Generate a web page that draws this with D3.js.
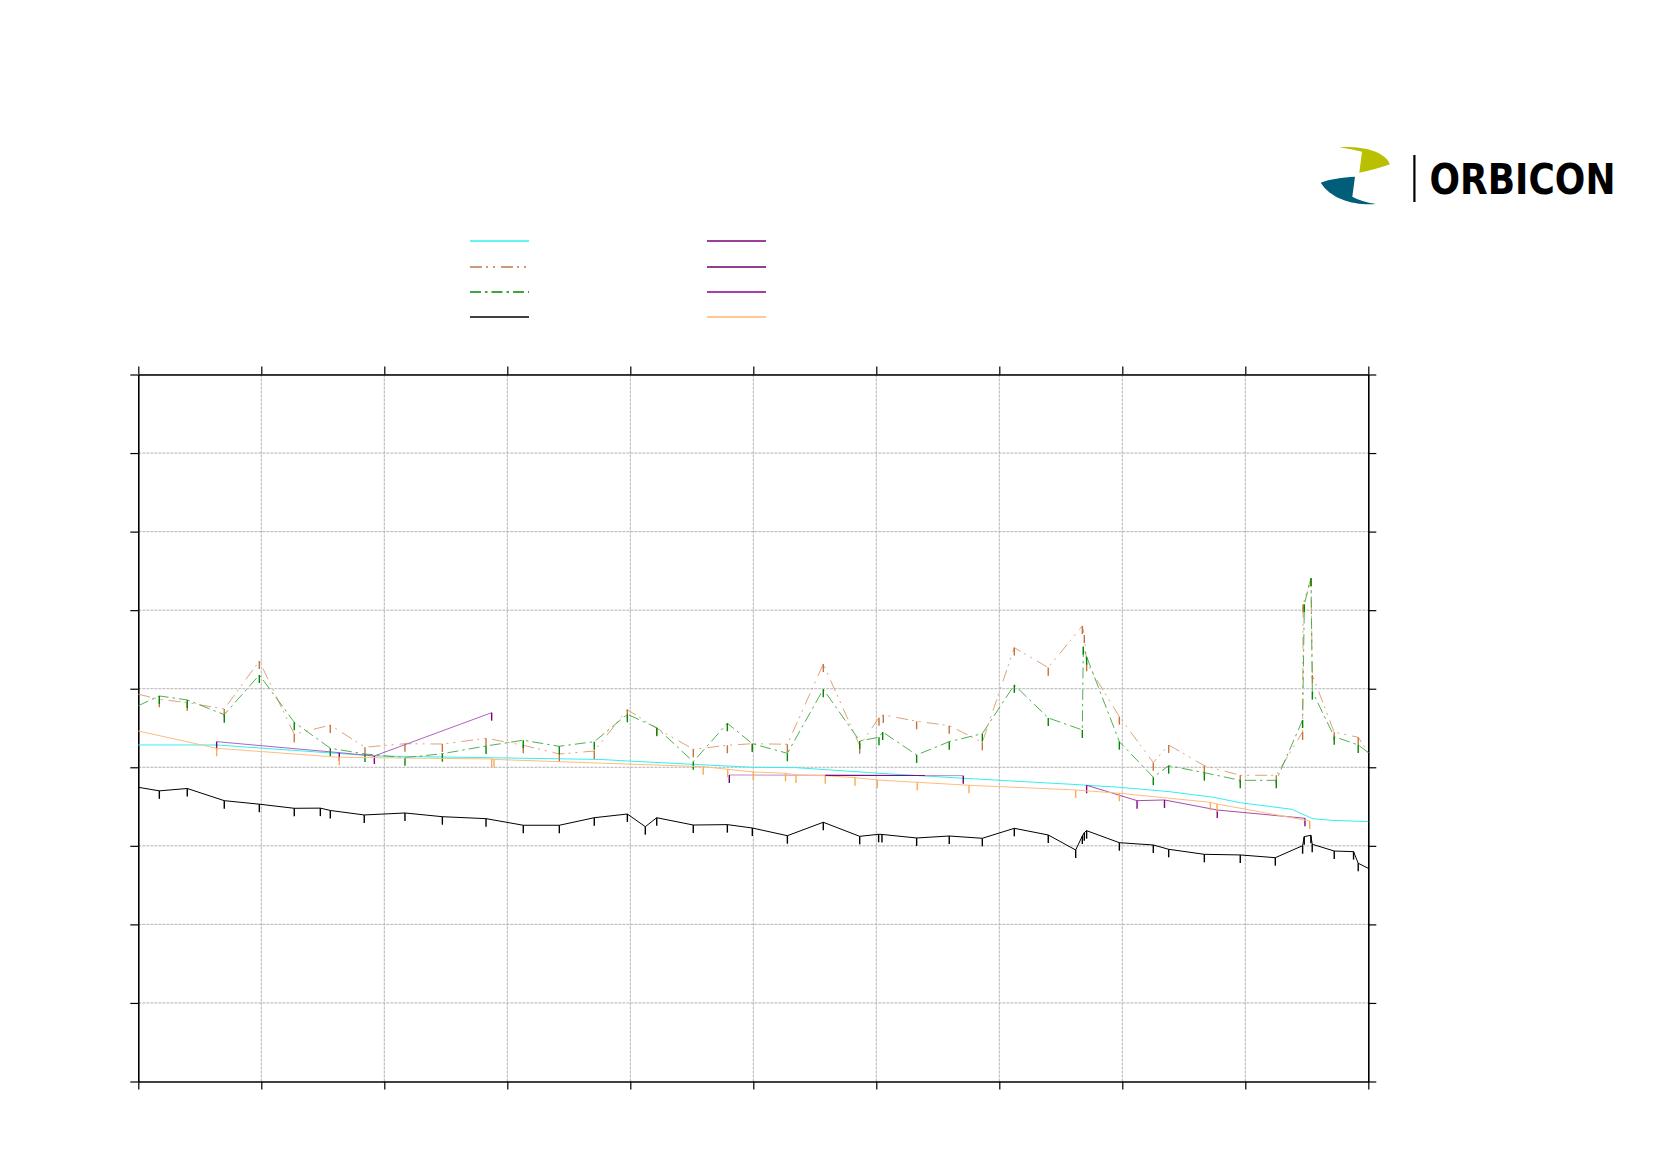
<!DOCTYPE html>
<html><head><meta charset="utf-8">
<script src="https://cdn.jsdelivr.net/npm/d3@7"></script>
<style>html,body{margin:0;padding:0;background:#fff;} svg{display:block;}</style>
</head><body>
<svg id="chart" width="1654" height="1169"></svg>
<script>
// ---- data (x: 0..10 along section, y: 0..9 level units) ----
const xGridValues = [0,1,2,3,4,5,6,7,8,9,10];
const yGridValues = [0,1,2,3,4,5,6,7,8,9];

const cyanSeries = [[0,4.284],[0.634,4.284],[1.919,4.144],[3.755,4.10],[3.976,4.08],[4.99,4.0],[5.35,3.995],[6.02,3.924],[6.71,3.86],[7.58,3.784],[7.98,3.745],[8.38,3.69],[8.74,3.618],[8.96,3.549],[9.38,3.465],[9.47,3.40],[9.55,3.345],[9.7,3.325],[10,3.308]];

const brownSeries = [[0,4.93],[0.171,4.866],[0.398,4.823],[0.699,4.742],[0.984,5.353],[1.268,4.42],[1.561,4.538],[1.843,4.255],[2.168,4.30],[2.472,4.296],[2.827,4.369],[3.130,4.28],[3.423,4.169],[3.707,4.207],[3.976,4.734],[4.215,4.496],[4.512,4.229],[4.789,4.28],[4.992,4.30],[5.277,4.293],[5.569,5.315],[5.865,4.275],[6.022,4.632],[6.057,4.666],[6.328,4.586],[6.593,4.53],[6.862,4.318],[7.122,5.523],[7.398,5.268],[7.675,5.799],[7.691,5.684],[7.71,5.324],[7.976,4.644],[8.252,4.059],[8.377,4.284],[8.667,4.02],[8.959,3.898],[9.252,3.898],[9.466,4.45],[9.47,6.075],[9.534,6.406],[9.545,5.175],[9.723,4.446],[9.918,4.382],[10,4.186]];

const greenSeries = [[0,4.784],[0.171,4.908],[0.398,4.857],[0.699,4.67],[0.984,5.175],[1.268,4.573],[1.561,4.242],[1.843,4.169],[2.168,4.122],[2.472,4.173],[2.827,4.271],[3.130,4.344],[3.423,4.267],[3.707,4.326],[3.976,4.675],[4.215,4.504],[4.512,4.071],[4.789,4.56],[4.992,4.30],[5.277,4.178],[5.569,4.993],[5.865,4.335],[6.022,4.382],[6.052,4.449],[6.328,4.157],[6.593,4.326],[6.862,4.428],[7.122,5.048],[7.398,4.628],[7.675,4.475],[7.683,5.535],[7.71,5.408],[7.976,4.326],[8.252,3.873],[8.377,4.02],[8.667,3.931],[8.959,3.834],[9.252,3.834],[9.466,4.602],[9.48,6.075],[9.534,6.406],[9.545,4.963],[9.723,4.39],[9.918,4.284],[10,4.186]];

const blackSeries = [[0,3.745],[0.171,3.70],[0.398,3.73],[0.699,3.575],[0.984,3.53],[1.268,3.478],[1.480,3.48],[1.561,3.45],[1.837,3.393],[2.168,3.418],[2.472,3.371],[2.827,3.346],[3.130,3.262],[3.423,3.262],[3.707,3.358],[3.976,3.405],[4.122,3.244],[4.215,3.358],[4.512,3.265],[4.789,3.27],[4.992,3.227],[5.277,3.129],[5.569,3.30],[5.865,3.121],[6.019,3.147],[6.046,3.145],[6.328,3.10],[6.593,3.125],[6.862,3.096],[7.122,3.223],[7.398,3.138],[7.621,2.947],[7.675,3.125],[7.691,3.168],[7.71,3.193],[7.976,3.04],[8.252,3.011],[8.377,2.956],[8.667,2.892],[8.959,2.884],[9.244,2.849],[9.466,3.002],[9.479,3.117],[9.533,3.134],[9.544,3.02],[9.723,2.934],[9.88,2.926],[9.918,2.778],[10,2.714]];

const purpleASeries = [[0.637,4.326],[1.634,4.186],[1.919,4.144],[2.873,4.695]];
const purpleBSeries = [[4.805,3.902],[6.707,3.893]];
const purpleBOverlap = [[5.585,3.897],[6.396,3.895]];
const purpleCSeries = [[7.71,3.771],[8.12,3.575],[8.343,3.584],[8.772,3.456],[9.485,3.351]];

const orangeSeries = [[0,4.462],[0.637,4.242],[1.634,4.127],[2.873,4.106],[2.892,4.10],[4.593,4.008],[4.792,3.974],[5.0,3.94],[5.262,3.924],[5.347,3.902],[5.585,3.893],[5.827,3.868],[6.008,3.838],[6.333,3.809],[6.754,3.771],[7.621,3.711],[7.976,3.669],[8.716,3.554],[8.770,3.533],[9.524,3.316]];

// ---- series styling ----
const seriesList = [
  {data: cyanSeries,    line: "#30f0f0", tick: "#30f0f0", w: 1,   dash: null,           ticks: false, col: 0, row: 0, legend: "#30f0f0"},
  {data: brownSeries,   line: "#d79a6c", tick: "#c4743c", w: 0.9, dash: "12,4,2,5,2,6", ticks: true,  col: 0, row: 1, legend: "#c07848"},
  {data: greenSeries,   line: "#3fa53f", tick: "#008800", w: 0.9, dash: "11,4,2.5,4",   ticks: true,  col: 0, row: 2, legend: "#008800"},
  {data: blackSeries,   line: "#000000", tick: "#000000", w: 1,   dash: null,           ticks: true,  col: 0, row: 3, legend: "#000000"},
  {data: purpleASeries, line: "#a652b4", tick: "#800080", w: 0.9, dash: null,           ticks: true,  col: 1, row: 0, legend: "#780078"},
  {data: purpleBSeries, line: "#c08cc4", tick: "#700070", w: 1,   dash: null,           ticks: true,  col: 1, row: 1, legend: "#6a006a"},
  {data: purpleCSeries, line: "#9a3aa0", tick: "#880088", w: 0.9, dash: null,           ticks: true,  col: 1, row: 2, legend: "#880088"},
  {data: orangeSeries,  line: "#ffbc80", tick: "#ffa850", w: 1,   dash: null,           ticks: true,  col: 1, row: 3, legend: "#ffb470"}
];

const svg = d3.select("#chart");
const x = d3.scaleLinear().domain([0,10]).range([138.3,1368.3]);
const y = d3.scaleLinear().domain([0,9]).range([1081.5,374.5]);

// grid
const grid = svg.append("g").attr("stroke","#b4b4b4").attr("stroke-width",1).attr("stroke-dasharray","3,1");
grid.selectAll("line.v").data(xGridValues.slice(1,-1)).join("line")
  .attr("x1",d=>x(d)).attr("x2",d=>x(d)).attr("y1",y(9)).attr("y2",y(0));
grid.selectAll("line.h").data(yGridValues.slice(1)).join("line")
  .attr("x1",x(0)).attr("x2",x(10)).attr("y1",d=>y(d)).attr("y2",d=>y(d));

// axes (frame with outward ticks, no labels)
function styleAxis(g){
  g.selectAll("path.domain").attr("stroke","#000").attr("stroke-width",1.6);
  g.selectAll(".tick line").attr("stroke","#000").attr("stroke-width",1.2);
  g.selectAll("text").remove();
}
svg.append("g").attr("transform",`translate(0,${y(9)})`)
  .call(d3.axisTop(x).tickValues(xGridValues).tickSize(8).tickSizeOuter(0).tickFormat("")).call(styleAxis);
svg.append("g").attr("transform",`translate(0,${y(0)})`)
  .call(d3.axisBottom(x).tickValues(xGridValues).tickSize(8).tickSizeOuter(0).tickFormat("")).call(styleAxis);
svg.append("g").attr("transform",`translate(${x(0)},0)`)
  .call(d3.axisLeft(y).tickValues(yGridValues).tickSize(8).tickSizeOuter(0).tickFormat("")).call(styleAxis);
svg.append("g").attr("transform",`translate(${x(10)},0)`)
  .call(d3.axisRight(y).tickValues(yGridValues).tickSize(8).tickSizeOuter(0).tickFormat("")).call(styleAxis);

// series
const line = d3.line().x(d=>x(d[0])).y(d=>y(d[1]));
const plot = svg.append("g");
seriesList.forEach(s=>{
  plot.append("path").datum(s.data).attr("d",line)
    .attr("fill","none").attr("stroke",s.line).attr("stroke-width",s.w)
    .attr("stroke-dasharray",s.dash);
  if (s.ticks){
    plot.append("g").selectAll("line").data(s.data.filter(d=>d[0]>0 && d[0]<10)).join("line")
      .attr("x1",d=>x(d[0])).attr("x2",d=>x(d[0]))
      .attr("y1",d=>y(d[1])).attr("y2",d=>y(d[1])+8)
      .attr("stroke",s.tick).attr("stroke-width",1.4);
  }
});
// darker overlapping stretch of the second purple series
plot.append("path").datum(purpleBOverlap).attr("d",line)
  .attr("fill","none").attr("stroke","#7a1080").attr("stroke-width",1.1);

// legend (lines only)
const legendX = [470, 707];
const legendY = [241, 267, 292, 317];
const lg = svg.append("g");
seriesList.forEach(s=>{
  lg.append("line")
    .attr("x1",legendX[s.col]).attr("x2",legendX[s.col]+59)
    .attr("y1",legendY[s.row]).attr("y2",legendY[s.row])
    .attr("stroke",s.legend).attr("stroke-width",1.4)
    .attr("stroke-dasharray",s.dash);
});

// logo
const logo = svg.append("g");
logo.append("path").attr("fill","#b8c000")
  .attr("d","M1339.3,147.3 C1360,146 1384,150 1390,164.3 C1380,168 1370,170.5 1359.3,172.7 L1362,151.7 C1355,150 1347,148.5 1339.3,147.3 Z");
logo.append("path").attr("fill","#005e7a")
  .attr("d","M1320.7,182.7 C1330,179 1342,177.5 1355,176.7 L1352.3,196.7 C1358,200 1366,202.5 1376,204 C1355,205.5 1332,200 1320.7,182.7 Z");
logo.append("rect").attr("x",1413.3).attr("y",155).attr("width",2.2).attr("height",47).attr("fill","#000");
logo.append("text").attr("x",1429.5).attr("y",193.5)
  .attr("font-family","'DejaVu Sans Condensed','DejaVu Sans',sans-serif")
  .attr("font-weight","bold").attr("font-size",43.5)
  .attr("textLength",186).attr("lengthAdjust","spacingAndGlyphs")
  .attr("fill","#000").text("ORBICON");
</script>
</body></html>
